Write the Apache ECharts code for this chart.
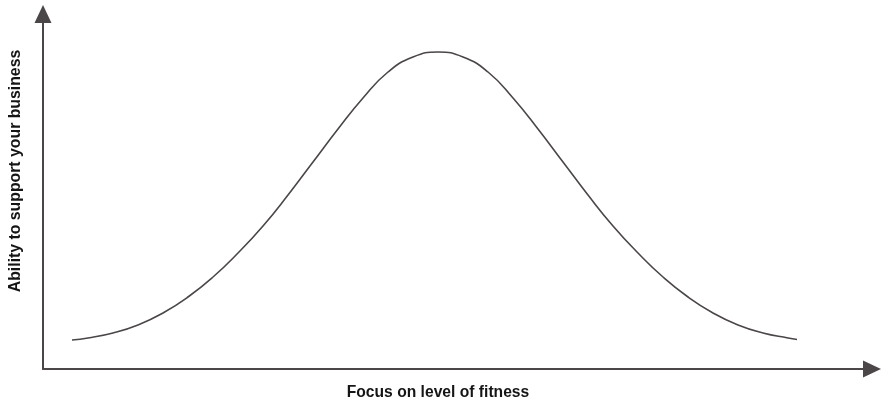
<!DOCTYPE html>
<html>
<head>
<meta charset="utf-8">
<script src="https://cdn.jsdelivr.net/npm/echarts@6/dist/echarts.min.js"></script>
<style>
  html, body { margin: 0; padding: 0; background: #ffffff; }
  #chart { width: 882px; height: 402px; }
</style>
</head>
<body>
<div id="chart"></div>
<script>
// Focus on level of fitness (arbitrary units along the x axis)
const focusValues = [29, 45, 70, 95, 120, 145, 170, 195, 220, 245, 270, 295, 320, 345, 370, 395,
                     420, 445, 470, 495, 520, 545, 570, 595, 620, 645, 670, 695, 720, 745, 754];
// Ability to support your business (arbitrary units)
const abilityValues = [29, 31, 36, 44, 56, 72, 92, 116, 143, 174, 207, 240, 271, 297, 312, 317,
                       312, 297, 271, 240, 207, 174, 143, 116, 92, 72, 56, 44, 36, 31, 29.5];

const xAxisTitle = 'Focus on level of fitness';
const yAxisTitle = 'Ability to support your business';

const axisColor = '#4b4647';
const fontFam = '"Liberation Sans", Arial, Helvetica, sans-serif';

const seriesData = focusValues.map((x, i) => [x, abilityValues[i]]);

const chart = echarts.init(document.getElementById('chart'), null, { renderer: 'canvas' });
chart.setOption({
  animation: false,
  backgroundColor: '#ffffff',
  grid: { left: 43, right: 10, top: 14, bottom: 33 },
  xAxis: {
    type: 'value', min: 0, max: 829,
    axisLine: { show: true, symbol: ['none', 'triangle'], symbolSize: [17, 18], lineStyle: { color: axisColor, width: 2 } },
    axisTick: { show: false }, axisLabel: { show: false }, splitLine: { show: false }
  },
  yAxis: {
    type: 'value', min: 0, max: 355,
    axisLine: { show: true, symbol: ['none', 'triangle'], symbolSize: [17, 18], lineStyle: { color: axisColor, width: 2 } },
    axisTick: { show: false }, axisLabel: { show: false }, splitLine: { show: false }
  },
  graphic: [
    {
      type: 'text', x: 438, y: 392, scaleX: 0.92,
      style: { text: xAxisTitle, fill: '#151515', font: 'bold 17px ' + fontFam, textAlign: 'center', textVerticalAlign: 'middle' }
    },
    {
      type: 'text', x: 15, y: 171, rotation: Math.PI / 2, scaleX: 0.93,
      style: { text: yAxisTitle, fill: '#151515', font: 'bold 17px ' + fontFam, textAlign: 'center', textVerticalAlign: 'middle' }
    }
  ],
  series: [{
    type: 'line',
    data: seriesData,
    smooth: 0.5,
    showSymbol: false,
    lineStyle: { color: axisColor, width: 1.6 }
  }]
});
</script>
</body>
</html>
